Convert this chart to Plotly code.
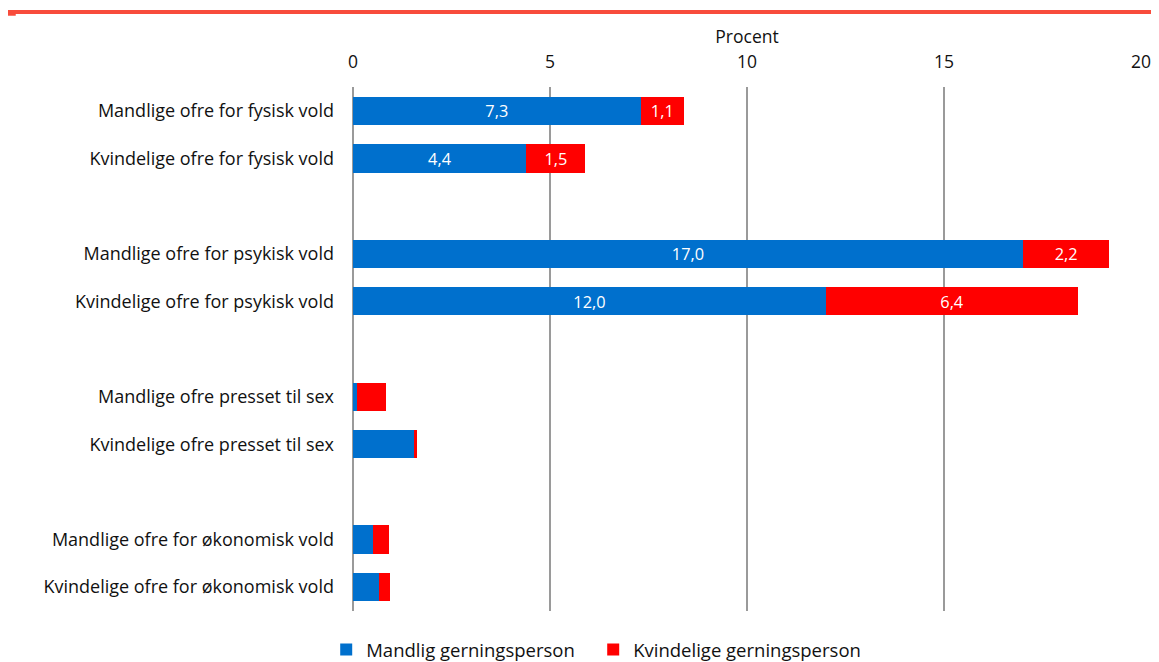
import plotly.graph_objects as go

# Categories (blank entries are spacer rows between groups)
categories = [
    "Mandlige ofre for fysisk vold",
    "Kvindelige ofre for fysisk vold",
    " ",
    "Mandlige ofre for psykisk vold",
    "Kvindelige ofre for psykisk vold",
    "  ",
    "Mandlige ofre presset til sex",
    "Kvindelige ofre presset til sex",
    "   ",
    "Mandlige ofre for økonomisk vold",
    "Kvindelige ofre for økonomisk vold",
]
male_perp = [7.3, 4.4, None, 17.0, 12.0, None, 0.1, 1.55, None, 0.52, 0.67]
female_perp = [1.1, 1.5, None, 2.2, 6.4, None, 0.75, 0.07, None, 0.4, 0.27]
male_labels = ["7,3", "4,4", "", "17,0", "12,0", "", "", "", "", "", ""]
female_labels = ["1,1", "1,5", "", "2,2", "6,4", "", "", "", "", "", ""]

font_family = "'Open Sans', sans-serif"

fig = go.Figure()
fig.add_trace(go.Bar(
    y=categories, x=male_perp, orientation="h",
    name="Mandlig gerningsperson",
    marker=dict(color="#0070CD", line=dict(width=0)),
    text=male_labels, textposition="inside", insidetextanchor="middle",
    textfont=dict(color="white", size=17, family=font_family),
    width=0.59,
))
fig.add_trace(go.Bar(
    y=categories, x=female_perp, orientation="h",
    name="Kvindelige gerningsperson",
    marker=dict(color="#FF0000", line=dict(width=0)),
    text=female_labels, textposition="inside", insidetextanchor="middle",
    textfont=dict(color="white", size=17, family=font_family),
    width=0.59,
))

fig.update_layout(
    barmode="stack",
    width=1151, height=654,
    plot_bgcolor="white", paper_bgcolor="white",
    margin=dict(l=345, r=18, t=79, b=51, autoexpand=False),
    font=dict(family=font_family, size=17, color="#111111"),
    uniformtext=dict(mode="show", minsize=10),
    legend=dict(
        orientation="h", x=-0.034, xanchor="left", y=-0.0744, yanchor="middle",
        font=dict(size=18.5), traceorder="normal",
        itemwidth=30, entrywidth=222,
    ),
    showlegend=True,
    shapes=[
        dict(type="line", xref="paper", yref="paper",
             x0=-0.439, x1=1.03, y0=1.143, y1=1.143,
             line=dict(color="#F84C3C", width=4)),
        dict(type="rect", xref="paper", yref="paper",
             x0=-0.439, x1=-0.428, y0=1.136, y1=1.143,
             line=dict(width=0), fillcolor="#F84C3C"),
    ],
)

fig.update_xaxes(
    side="top", range=[0, 20], tickvals=[0, 5, 10, 15, 20],
    showgrid=True, gridcolor="#9A9A9A", gridwidth=2,
    zeroline=True, zerolinecolor="#9A9A9A", zerolinewidth=2,
    showline=False, ticks="", tickfont=dict(size=17.5),
    ticklabelstandoff=15,
    title=dict(text="Procent", font=dict(size=17.5), standoff=0),
)
fig.update_yaxes(
    autorange="reversed", showgrid=False, showline=False,
    ticks="", ticklabelstandoff=18, tickfont=dict(size=18),
)

fig.write_html("out.html")
